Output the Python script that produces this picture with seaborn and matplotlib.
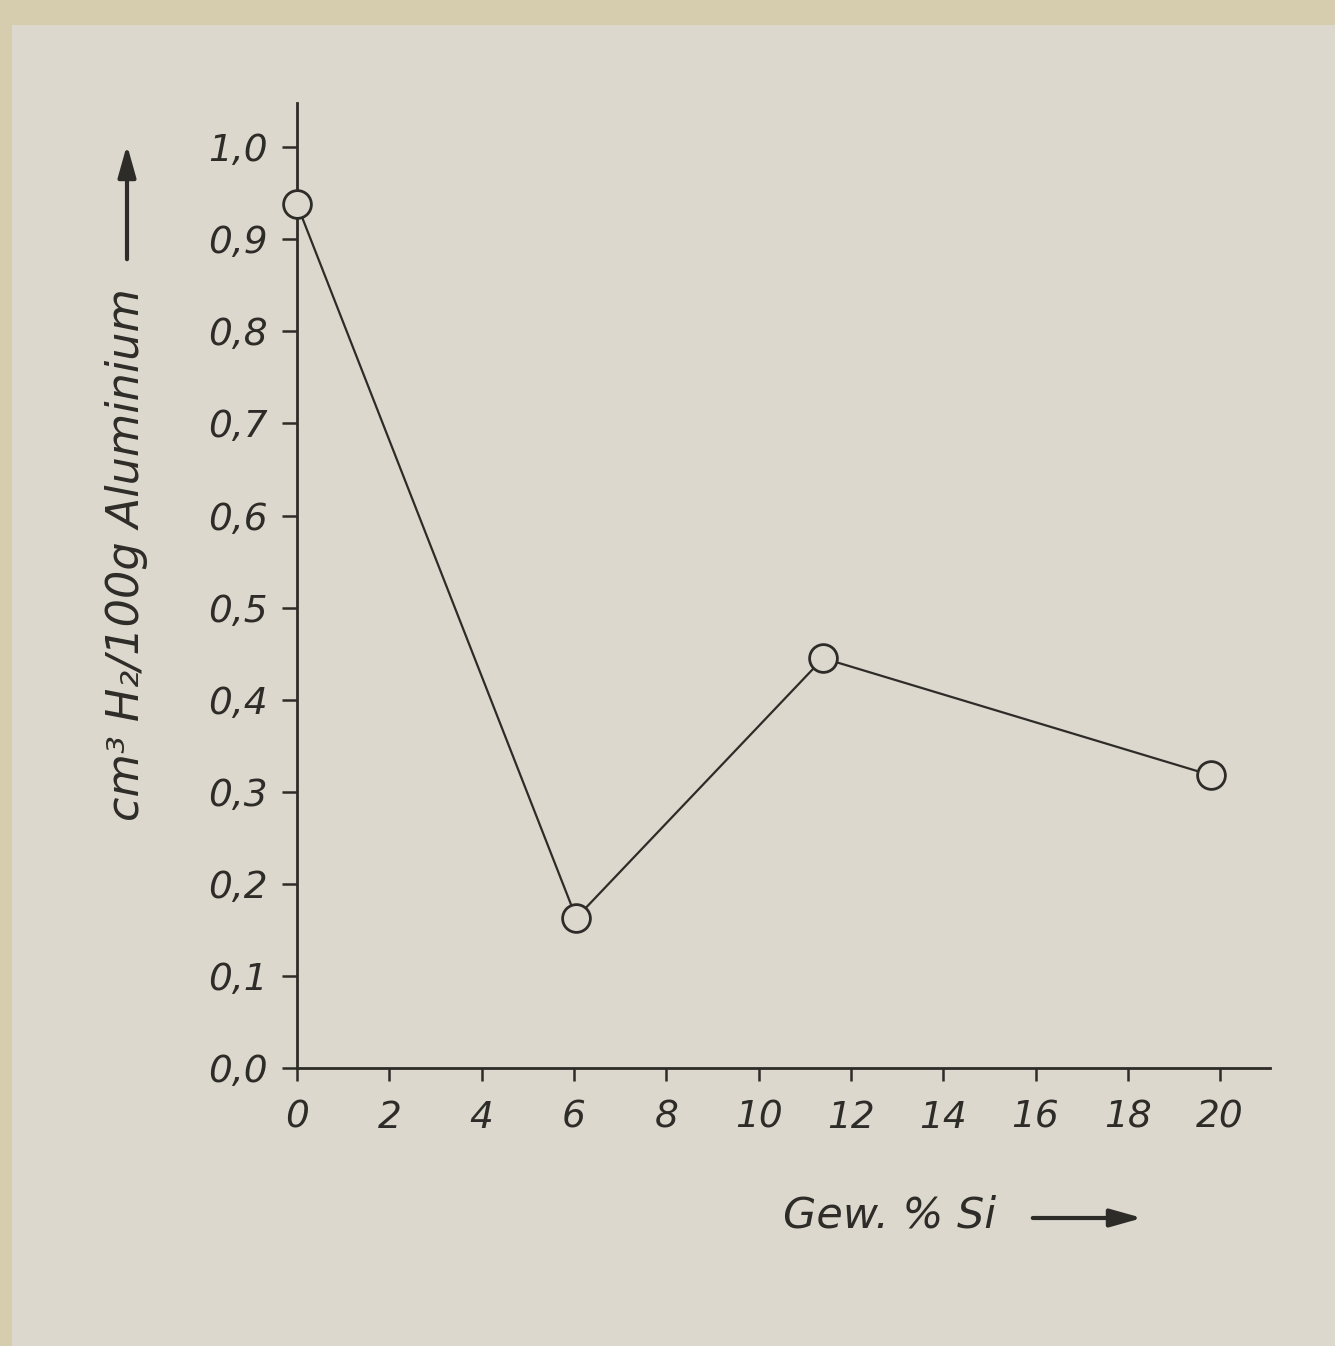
import matplotlib
matplotlib.use("Agg")
import matplotlib.pyplot as plt
import seaborn as sns
import pandas as pd
from matplotlib.patches import Rectangle

# data
si_percent = [0.0, 6.05, 11.4, 19.8]
h2_content = [0.938, 0.163, 0.445, 0.318]
x_ticks = [0, 2, 4, 6, 8, 10, 12, 14, 16, 18, 20]
y_ticks = [0.0, 0.1, 0.2, 0.3, 0.4, 0.5, 0.6, 0.7, 0.8, 0.9, 1.0]
y_tick_labels = ["0,0", "0,1", "0,2", "0,3", "0,4", "0,5", "0,6", "0,7", "0,8", "0,9", "1,0"]
x_label = "Gew. % Si"
y_label = "cm³ H₂/100g Aluminium"

sns.set_theme(style="white")
plt.rcParams['font.family'] = ['DejaVu Sans']

border = "#d6cdae"
paper = "#dcd8cd"
ink = "#2e2c28"

fig = plt.figure(figsize=(13.35, 13.46), dpi=100)
fig.patch.set_facecolor(border)
fig.patches.append(Rectangle((12/1335, 0), 1, 1 - 25/1346, transform=fig.transFigure,
                             facecolor=paper, edgecolor="none", zorder=-10))

ax = fig.add_axes([297/1335, 1 - 1068/1346, (1270-297)/1335, (1068-103)/1346])
ax.set_facecolor("none")
ax.set_zorder(2)

df = pd.DataFrame({"si": si_percent, "h2": h2_content})
sns.lineplot(data=df, x="si", y="h2", ax=ax, color=ink, linewidth=1.6,
             marker="o", markersize=20, markerfacecolor=paper,
             markeredgecolor=ink, markeredgewidth=2.0, clip_on=False, zorder=3)

ax.set_xlim(0, 21.08)
ax.set_ylim(0, 1.048)
ax.set_xticks(x_ticks)
ax.set_xticklabels([str(t) for t in x_ticks])
ax.set_yticks(y_ticks)
ax.set_yticklabels(y_tick_labels)

for s in ["top", "right"]:
    ax.spines[s].set_visible(False)
for s in ["left", "bottom"]:
    ax.spines[s].set_color(ink)
    ax.spines[s].set_linewidth(2.0)

ax.tick_params(axis="y", direction="out", length=11, width=1.8, color=ink,
               labelsize=27, labelcolor=ink, pad=10, left=True)
ax.tick_params(axis="x", direction="out", length=9, width=1.8, color=ink,
               labelsize=27, labelcolor=ink, pad=14, bottom=True)
for lab in ax.get_xticklabels() + ax.get_yticklabels():
    lab.set_fontstyle("italic")

ax.set_xlabel("")
ax.set_ylabel("")

# y axis label with arrow
fig.text(127/1335, 1 - 555/1346, y_label, rotation=90, ha="center", va="center",
         fontsize=32, style="italic", color=ink)
ax.annotate("", xy=(127/1335, 1 - 142/1346), xytext=(127/1335, 1 - 262/1346),
            xycoords="figure fraction", textcoords="figure fraction",
            arrowprops=dict(arrowstyle="-|>,head_length=1.6,head_width=0.45",
                            color=ink, lw=3))

# x axis label with arrow
fig.text(890/1335, 1 - 1215/1346, x_label, ha="center", va="center",
         fontsize=31, style="italic", color=ink)
ax.annotate("", xy=(1145/1335, 1 - 1218/1346), xytext=(1030/1335, 1 - 1218/1346),
            xycoords="figure fraction", textcoords="figure fraction",
            arrowprops=dict(arrowstyle="-|>,head_length=1.6,head_width=0.45",
                            color=ink, lw=3))

fig.savefig("out.png", dpi=100, facecolor=fig.get_facecolor())
